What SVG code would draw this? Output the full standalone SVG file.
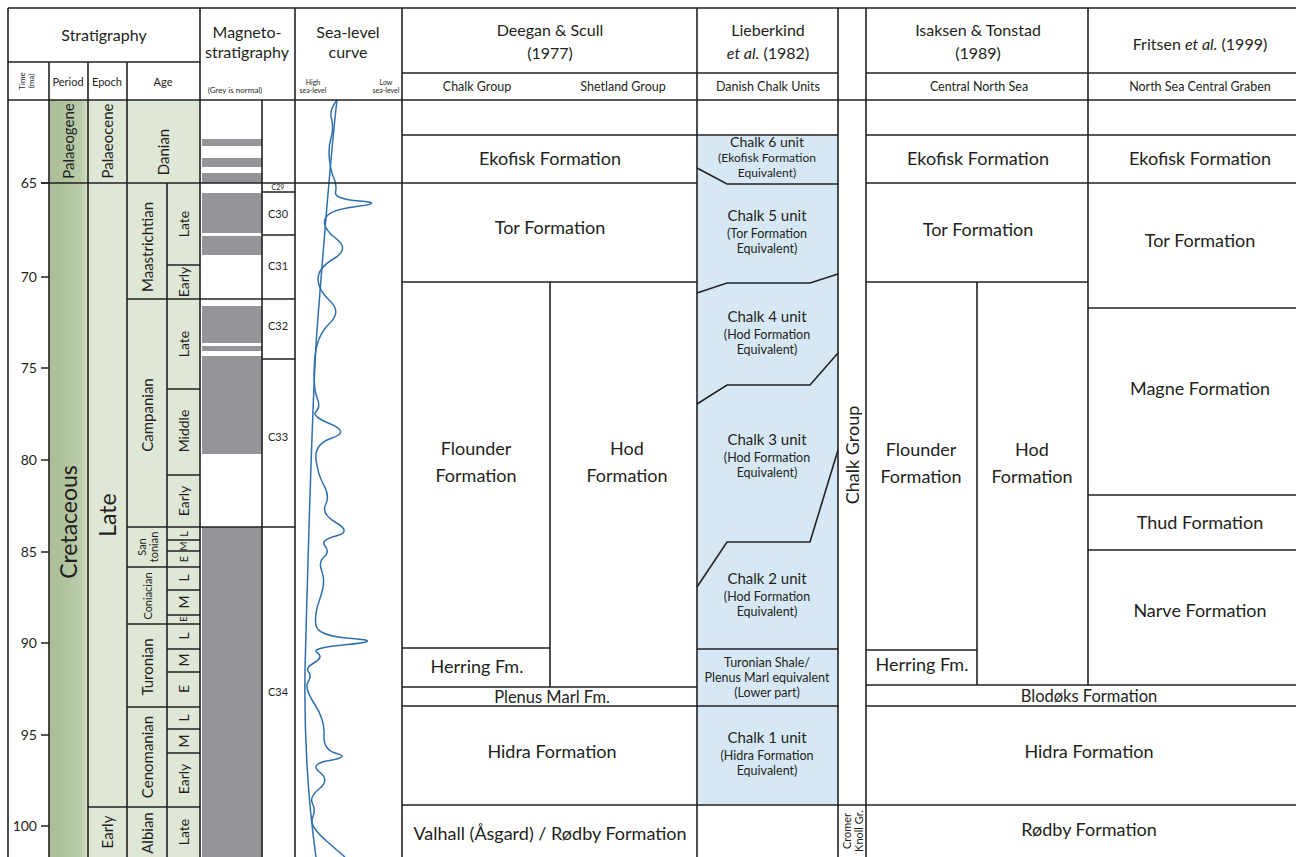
<svg xmlns="http://www.w3.org/2000/svg" width="1296" height="857" viewBox="0 0 1296 857">
<defs>
<linearGradient id="per" x1="0" y1="0" x2="1" y2="0">
<stop offset="0" stop-color="#a9bd97"/><stop offset="0.8" stop-color="#b9cba8"/><stop offset="1" stop-color="#d3dfc8"/>
</linearGradient>
<style>
.ln{stroke:#222222;stroke-width:1.6;fill:none}
.t{font-family:Lato,"Liberation Sans",sans-serif;fill:#231f20;text-anchor:middle}
.r{dominant-baseline:central}
.fm{font-size:18px}.f16{font-size:16px}.f15{font-size:15px}.f14{font-size:14px}.f13{font-size:13px}.f12{font-size:12px}.f11{font-size:11px}.f10{font-size:10px}.f8{font-size:8px}.f7{font-size:7px}.f23{font-size:23px}
.lu{font-size:15px}.ls{font-size:12.5px}
.grey{fill:#939598}
.blue{fill:#d6e8f6}
.sea{stroke:#2e6fae;stroke-width:1.5;fill:none}
</style>
</defs>
<rect width="1296" height="857" fill="#ffffff"/>

<g id="stratigraphy">
<rect x="49" y="100" width="39" height="757" fill="url(#per)"/>
<rect x="88" y="100" width="112" height="757" fill="#dfe7d7"/>
<g class="ln">
<path d="M41,183H49M41,277H49M41,368H49M41,460H49M41,552H49M41,643H49M41,735H49M41,826H49"/>
<path d="M127,299H200M167,265H200M167,389H200M167,475H200M127,527H200M167,540H200M167,551H200M127,567H200M167,590H200M167,615H200M127,624H200M167,649H200M167,672H200M127,707H200M167,729H200M167,753H200M88,807H200"/>
<path d="M167,183V857"/>
</g>
<g class="t" font-size="14">
<text x="37" y="188" text-anchor="end">65</text>
<text x="37" y="282" text-anchor="end">70</text>
<text x="37" y="373" text-anchor="end">75</text>
<text x="37" y="465" text-anchor="end">80</text>
<text x="37" y="557" text-anchor="end">85</text>
<text x="37" y="648" text-anchor="end">90</text>
<text x="37" y="740" text-anchor="end">95</text>
<text x="37" y="831" text-anchor="end">100</text>
</g>
<g class="t r">
<text class="f15" transform="translate(68,141) rotate(-90)">Palaeogene</text>
<text class="f15" transform="translate(107,141) rotate(-90)">Palaeocene</text>
<text class="f15" transform="translate(163,152) rotate(-90)">Danian</text>
<text class="f23" transform="translate(68,522) rotate(-90)">Cretaceous</text>
<text class="f23" transform="translate(107,515) rotate(-90)">Late</text>
<text class="f15" transform="translate(107,832) rotate(-90)">Early</text>
<text class="f15" transform="translate(147,247) rotate(-90)">Maastrichtian</text>
<text class="f15" transform="translate(147,415) rotate(-90)">Campanian</text>
<text class="f11" transform="translate(141,547) rotate(-90)">San</text>
<text class="f11" transform="translate(153,547) rotate(-90)">tonian</text>
<text class="f11" transform="translate(147,596) rotate(-90)">Coniacian</text>
<text class="f15" transform="translate(147,667) rotate(-90)">Turonian</text>
<text class="f15" transform="translate(147,757) rotate(-90)">Cenomanian</text>
<text class="f15" transform="translate(147,833) rotate(-90)">Albian</text>
<text class="f14" transform="translate(183,224) rotate(-90)">Late</text>
<text class="f14" transform="translate(183,282) rotate(-90)">Early</text>
<text class="f14" transform="translate(183,344) rotate(-90)">Late</text>
<text class="f14" transform="translate(183,431) rotate(-90)">Middle</text>
<text class="f14" transform="translate(183,501) rotate(-90)">Early</text>
<text class="f11" transform="translate(183,534) rotate(-90)">L</text>
<text class="f10" transform="translate(183,546) rotate(-90)">M</text>
<text class="f11" transform="translate(183,559) rotate(-90)">E</text>
<text class="f14" transform="translate(183,578) rotate(-90)">L</text>
<text class="f14" transform="translate(183,602) rotate(-90)">M</text>
<text class="f10" transform="translate(183,619) rotate(-90)">E</text>
<text class="f14" transform="translate(183,636) rotate(-90)">L</text>
<text class="f14" transform="translate(183,660) rotate(-90)">M</text>
<text class="f14" transform="translate(183,689) rotate(-90)">E</text>
<text class="f14" transform="translate(183,718) rotate(-90)">L</text>
<text class="f14" transform="translate(183,741) rotate(-90)">M</text>
<text class="f14" transform="translate(183,779) rotate(-90)">Early</text>
<text class="f14" transform="translate(183,832) rotate(-90)">Late</text>
</g>
</g>

<g id="magnetostratigraphy">
<g class="grey">
<rect x="202" y="139" width="60" height="7"/>
<rect x="202" y="158" width="60" height="9"/>
<rect x="202" y="173" width="60" height="10"/>
<rect x="202" y="193" width="60" height="40"/>
<rect x="202" y="236" width="60" height="19"/>
<rect x="202" y="306" width="60" height="37"/>
<rect x="202" y="346" width="60" height="5"/>
<rect x="202" y="356" width="60" height="98"/>
<rect x="202" y="527" width="60" height="330"/>
</g>
<path class="ln" d="M262,100V857M262,192H295M262,235H295M200,299H295M262,359H295M200,527H295"/>
<g class="t">
<text class="f7" x="278" y="190">C29</text>
<text class="f11" x="278" y="218">C30</text>
<text class="f11" x="278" y="270">C31</text>
<text class="f11" x="278" y="330">C32</text>
<text class="f11" x="278" y="441">C33</text>
<text class="f11" x="278" y="696">C34</text>
</g>
</g>

<g id="sea-level">
<path class="sea" d="M337,100 C331,150 324,240 317,330 C312,400 308,560 305,670 C304,740 308,800 316,857"/>
<path class="sea" d="M337,100 Q329,110 331.5,119 Q334,128 331,138 Q328,148 329.5,160 Q331,172 334,178.5 Q337,185 335.5,192 Q334,199 359.5,201 Q385,203 356.5,206.5 Q328,210 325,219 Q322,228 336,238.5 Q350,249 334,258.5 Q318,268 318,279 Q318,290 330,301 Q342,312 329,324 Q316,336 314.5,362 Q313,388 317,397.5 Q321,407 316,411.5 Q311,416 330.5,424 Q350,432 332,438 Q314,444 316,459.5 Q318,475 324,485.5 Q330,496 325.5,505 Q321,514 336.5,523 Q352,532 336,536 Q320,540 325,546 Q330,552 324,557 Q318,562 322,572 Q326,582 320,598.5 Q314,615 316,625.5 Q318,636 351.5,638.5 Q385,641 347.5,644.5 Q310,648 317,652.5 Q324,657 314.5,662.5 Q305,668 308.5,672 Q312,676 308,682 Q304,688 314.5,704 Q325,720 324,735 Q323,750 336.5,753.5 Q350,757 329.5,760.5 Q309,764 319.5,772 Q330,780 319.5,788.5 Q309,797 312.5,803.5 Q316,810 312.5,818 Q309,826 327,841.5 L345,857"/>
</g>

<g id="deegan-scull">
<path class="ln" d="M402,135H697M402,282H697M550,282V687M402,648H550M402,687H697M402,706H697"/>
<g class="t fm">
<text x="550" y="165">Ekofisk Formation</text>
<text x="550" y="234">Tor Formation</text>
<text x="476" y="455">Flounder</text>
<text x="476" y="482">Formation</text>
<text x="627" y="455">Hod</text>
<text x="627" y="482">Formation</text>
<text x="477" y="673">Herring Fm.</text>
<text style="font-size:16.5px" x="552" y="703">Plenus Marl Fm.</text>
<text x="552" y="758">Hidra Formation</text>
<text x="550" y="840">Valhall (Åsgard) / Rødby Formation</text>
</g>
</g>

<g id="lieberkind">
<rect class="blue" x="697" y="135" width="141" height="670"/>
<path class="ln" d="M697,135H838M697,168L727,184H838M697,293L727,283H810L838,274M697,404L727,385H810L838,353M838,450L810,542H727L697,587M697,649H838M697,706H838"/>
<g class="t">
<text class="f14" x="767" y="147">Chalk 6 unit</text>
<text class="f12" x="767" y="162">(Ekofisk Formation</text>
<text class="f12" x="767" y="177">Equivalent)</text>
<text class="lu" x="767" y="221">Chalk 5 unit</text>
<text class="ls" x="767" y="238">(Tor Formation</text>
<text class="ls" x="767" y="253">Equivalent)</text>
<text class="lu" x="767" y="322">Chalk 4 unit</text>
<text class="ls" x="767" y="339">(Hod Formation</text>
<text class="ls" x="767" y="354">Equivalent)</text>
<text class="lu" x="767" y="445">Chalk 3 unit</text>
<text class="ls" x="767" y="462">(Hod Formation</text>
<text class="ls" x="767" y="477">Equivalent)</text>
<text class="lu" x="767" y="584">Chalk 2 unit</text>
<text class="ls" x="767" y="601">(Hod Formation</text>
<text class="ls" x="767" y="616">Equivalent)</text>
<text class="ls" x="767" y="667">Turonian Shale/</text>
<text class="ls" x="767" y="682">Plenus Marl equivalent</text>
<text class="ls" x="767" y="697">(Lower part)</text>
<text class="lu" x="767" y="743">Chalk 1 unit</text>
<text class="ls" x="767" y="760">(Hidra Formation</text>
<text class="ls" x="767" y="775">Equivalent)</text>
</g>
</g>

<g id="chalk-group">
<g class="t r">
<text class="fm" transform="translate(852,455) rotate(-90)">Chalk Group</text>
<text class="f11" transform="translate(846,831) rotate(-90)">Cromer</text>
<text class="f11" transform="translate(858,831) rotate(-90)">Knoll Gr.</text>
</g>
</g>

<g id="isaksen-tonstad">
<path class="ln" d="M866,135H1088M866,183H1088M866,282H1088M977,282V685M866,650H977"/>
<g class="t fm">
<text x="978" y="165">Ekofisk Formation</text>
<text x="978" y="236">Tor Formation</text>
<text x="921" y="456">Flounder</text>
<text x="921" y="483">Formation</text>
<text x="1032" y="456">Hod</text>
<text x="1032" y="483">Formation</text>
<text x="922" y="671">Herring Fm.</text>
</g>
</g>

<g id="fritsen">
<path class="ln" d="M1088,135H1296M1088,183H1296M1088,308H1296M1088,495H1296M1088,550H1296"/>
<g class="t fm">
<text x="1200" y="165">Ekofisk Formation</text>
<text x="1200" y="247">Tor Formation</text>
<text x="1200" y="395">Magne Formation</text>
<text x="1200" y="529">Thud Formation</text>
<text x="1200" y="617">Narve Formation</text>
</g>
</g>

<g id="shared-lower">
<path class="ln" d="M866,685H1296M866,706H1296M402,805H1296"/>
<g class="t fm">
<text style="font-size:16.5px" x="1089" y="702">Blodøks Formation</text>
<text x="1089" y="758">Hidra Formation</text>
<text x="1089" y="836">Rødby Formation</text>
</g>
</g>

<g id="header">
<g class="t">
<text class="f16" x="104" y="41">Stratigraphy</text>
<text class="f16" x="247" y="38">Magneto-</text>
<text class="f16" x="247" y="58">stratigraphy</text>
<text class="f16" x="348" y="38">Sea-level</text>
<text class="f16" x="348" y="58">curve</text>
<text class="f11" x="68" y="86">Period</text>
<text class="f11" x="107" y="86">Epoch</text>
<text class="f11" x="163" y="86">Age</text>
<text class="f8" x="235" y="93">(Grey is normal)</text>
<text class="f7" x="313" y="85">High</text>
<text class="f7" x="313" y="93">sea-level</text>
<text class="f7" x="386" y="85">Low</text>
<text class="f7" x="386" y="93">sea-level</text>
<text class="f8 r" transform="translate(22,81) rotate(-90)">Time</text>
<text class="f8 r" transform="translate(31,81) rotate(-90)">(ma)</text>
<text class="f16" x="550" y="36">Deegan &amp; Scull</text>
<text class="f16" x="550" y="59">(1977)</text>
<text class="f16" x="768" y="36">Lieberkind</text>
<text class="f16" x="768" y="59"><tspan font-style="italic">et al.</tspan> (1982)</text>
<text class="f16" x="978" y="36">Isaksen &amp; Tonstad</text>
<text class="f16" x="978" y="59">(1989)</text>
<text class="f16" x="1200" y="50">Fritsen <tspan font-style="italic">et al.</tspan> (1999)</text>
<text style="font-size:12.5px" x="477" y="91">Chalk Group</text>
<text style="font-size:12.5px" x="623" y="91">Shetland Group</text>
<text style="font-size:12.5px" x="768" y="91">Danish Chalk Units</text>
<text style="font-size:12.5px" x="979" y="91">Central North Sea</text>
<text style="font-size:12.5px" x="1200" y="91">North Sea Central Graben</text>
</g>
</g>

<g id="grid" class="ln">
<path d="M8,8H1296M8,62H200M402,73H838M866,73H1296M8,100H1296M41,183H697"/>
<path d="M8,8V857M49,62V857M88,62V857M127,62V857M200,8V857M295,8V857M402,8V857M697,8V857M838,8V857M866,8V857M1088,8V685"/>
</g>
</svg>
